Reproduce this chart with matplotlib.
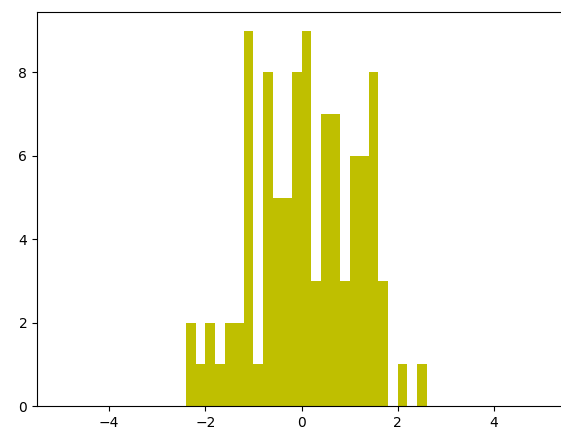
'''
Histogram of sample values (yellow bars)
'''
import matplotlib
matplotlib.use("Agg")
import matplotlib.pyplot as plt
import numpy as np

# bin edges: 25 bins of width 0.2 from -2.4 to 2.6
bin_start = -2.4
bin_width = 0.2
counts = [2, 1, 2, 1, 2, 2, 9, 1, 8, 5, 5, 8, 9, 3, 7, 7, 3, 6, 6, 8, 3, 0, 1, 0, 1]

edges = bin_start + bin_width * np.arange(len(counts) + 1)
centers = (edges[:-1] + edges[1:]) / 2

fig = plt.figure(figsize=(5.61, 4.29), dpi=100)
# the axes runs a little past the right edge of the image, like the reference crop
ax = fig.add_axes([37 / 561, 23 / 429, 529 / 561, 394 / 429])
ax.hist(centers, bins=edges, weights=counts, color='y')
ax.set_xlim(-5.5, 5.5)
ax.spines['right'].set_visible(False)

fig.savefig("out.png", dpi=100)
